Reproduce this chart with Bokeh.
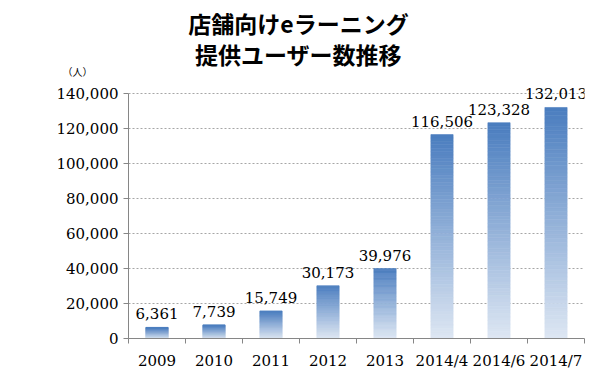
from bokeh.plotting import figure
from bokeh.layouts import column
from bokeh.models import (ColumnDataSource, FixedTicker, NumeralTickFormatter,
                          Range1d)
from bokeh.core.properties import value
from bokeh.embed import file_html
from bokeh.resources import INLINE

categories = ["2009", "2010", "2011", "2012", "2013", "2014/4", "2014/6", "2014/7"]
users = [6361, 7739, 15749, 30173, 39976, 116506, 123328, 132013]
y_ticks = [0, 20000, 40000, 60000, 80000, 100000, 120000, 140000]
title_line1 = "店舗向けeラーニング"
title_line2 = "提供ユーザー数推移"
unit_label = "（人）"

SERIF = "DejaVu Serif"
CJK = "Noto Sans CJK JP"

W = 594
TOP_H = 80
MAIN_H = 377 - TOP_H
FRAME_L = 128
FRAME_R = 584

# ---- header figure (titles and unit); its frame aligns with the main frame ----
head = figure(width=W, height=TOP_H, output_backend="svg", toolbar_location=None,
              title=None, x_range=Range1d(FRAME_L, FRAME_R), y_range=Range1d(0, TOP_H),
              x_axis_location=None,
              min_border_left=FRAME_L, min_border_right=W - FRAME_R, min_border_top=0,
              min_border_bottom=0)
head.outline_line_color = None
head.xgrid.visible = False
head.ygrid.visible = False
head.text(x=[298, 298], y=[TOP_H - 22, TOP_H - 53], text=[title_line1, title_line2],
          text_align="center", text_baseline="middle", text_font=value(CJK),
          text_font_style="bold", text_font_size="23px", text_color="#000000")
unit_pos = TOP_H - 71
hy = head.yaxis[0]
hy.ticker = FixedTicker(ticks=[unit_pos])
hy.major_label_overrides = {unit_pos: unit_label}
hy.axis_line_color = None
hy.major_tick_line_color = None
hy.minor_tick_line_color = None
hy.major_tick_out = 0
hy.major_tick_in = 0
hy.major_label_standoff = 36
hy.major_label_text_font = CJK
hy.major_label_text_font_size = "10px"
hy.major_label_text_color = "#000000"

# ---- main chart ----
y_top = 140000 * (338 - TOP_H) / 245.0
p = figure(width=W, height=MAIN_H, output_backend="svg", toolbar_location=None,
           title=None, x_range=Range1d(0, len(categories)),
           y_range=Range1d(0, y_top),
           min_border_left=FRAME_L, min_border_right=W - FRAME_R, min_border_top=0,
           min_border_bottom=39)
p.outline_line_color = None

# gradient bars: stacked thin segments from light (bottom) to dark (top)
N = 60
dark = (74, 125, 191)
light = (222, 231, 243)
xs, bottoms, tops, colors = [], [], [], []
for i, v in enumerate(users):
    for k in range(N):
        t = (k + 0.5) / N
        c = tuple(int(round(light[j] + (dark[j] - light[j]) * t)) for j in range(3))
        xs.append(i + 0.5)
        bottoms.append(v * k / N)
        tops.append(v * (k + 1) / N)
        colors.append("#%02x%02x%02x" % c)
src = ColumnDataSource(dict(x=xs, bottom=bottoms, top=tops, color=colors))
p.vbar(x="x", bottom="bottom", top="top", width=0.39, fill_color="color",
       line_color="color", line_width=0.6, source=src)

lab_src = ColumnDataSource(dict(x=[i + 0.5 for i in range(len(users))], y=users,
                                text=[f"{v:,}" for v in users]))
p.text(x="x", y="y", text="text", source=lab_src, text_align="center",
       text_baseline="bottom", y_offset=-8, text_font=value(SERIF),
       text_font_size="15px", text_color="#000000")

# axes
xa = p.xaxis[0]
xa.ticker = FixedTicker(ticks=[i + 0.5 for i in range(len(categories))],
                        minor_ticks=list(range(len(categories) + 1)))
xa.major_label_overrides = {i + 0.5: c for i, c in enumerate(categories)}
xa.major_tick_line_color = None
xa.major_tick_out = 5
xa.major_tick_in = 0
xa.minor_tick_out = 5
xa.minor_tick_in = 0
xa.minor_tick_line_color = "#868686"
xa.axis_line_color = "#868686"
xa.major_label_standoff = 8
xa.major_label_text_font = SERIF
xa.major_label_text_font_size = "15px"
xa.major_label_text_color = "#000000"

ya = p.yaxis[0]
ya.ticker = FixedTicker(ticks=y_ticks)
ya.bounds = (0, 140000)
ya.formatter = NumeralTickFormatter(format="0,0")
ya.major_tick_out = 5
ya.major_tick_in = 0
ya.minor_tick_line_color = None
ya.major_tick_line_color = "#868686"
ya.axis_line_color = "#868686"
ya.major_label_standoff = 5
ya.major_label_text_font = SERIF
ya.major_label_text_font_size = "15px"
ya.major_label_text_color = "#000000"

p.xgrid.grid_line_color = None
p.ygrid.grid_line_color = "#a6a6a6"
p.ygrid.grid_line_dash = "2 2"
p.ygrid.grid_line_width = 1
p.ygrid.bounds = (0, 140000)

layout = column(head, p, spacing=0)
open("out.html", "w").write(file_html(layout, INLINE))
